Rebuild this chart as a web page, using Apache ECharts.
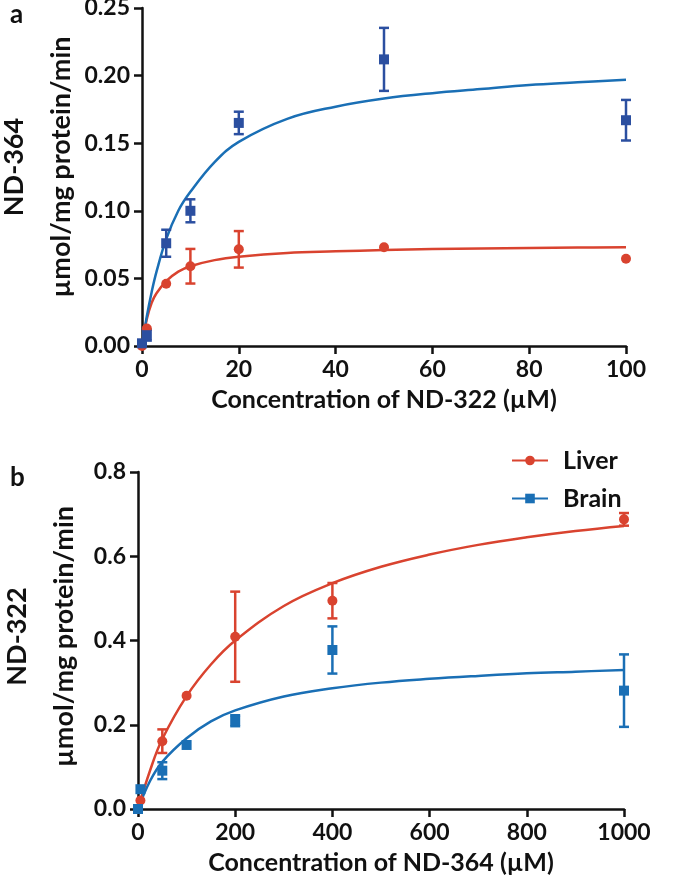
<!DOCTYPE html>
<html>
<head>
<meta charset="utf-8">
<script src="https://cdn.jsdelivr.net/npm/echarts@6/dist/echarts.min.js"></script>
<style>
html,body{margin:0;padding:0;background:#fff;}
#chart{width:673px;height:883px;}
</style>
</head>
<body>
<div id="chart"></div>
<script>
// ---------- Panel a (substrate ND-322, product ND-364) ----------
const aLiverX   = [0, 1, 5, 10, 20, 50, 100];
const aLiverY   = [0.000, 0.013, 0.046, 0.059, 0.0715, 0.073, 0.0645];
const aLiverErr = [0, 0, 0, 0.0128, 0.0135, 0, 0];
const aBrainX   = [0, 1, 5, 10, 20, 50, 100];
const aBrainY   = [0.002, 0.008, 0.076, 0.100, 0.165, 0.212, 0.167];
const aBrainErr = [0, 0.004, 0.010, 0.0085, 0.0083, 0.0233, 0.015];
// fitted curves
const aCurveX      = [0, 1, 2, 3, 5, 7.5, 10, 15, 20, 30, 40, 50, 60, 70, 80, 90, 100];
const aLiverCurveY = [0, 0.020, 0.032, 0.039, 0.048, 0.055, 0.059, 0.0635, 0.066, 0.0688, 0.070, 0.071, 0.0717, 0.0722, 0.0725, 0.0728, 0.073];
const aBrainCurveY = [0, 0.022, 0.040, 0.055, 0.079, 0.100, 0.114, 0.136, 0.151, 0.168, 0.177, 0.183, 0.187, 0.190, 0.193, 0.195, 0.197];
const aXTicks = [0, 20, 40, 60, 80, 100];
const aYTicks = [0.00, 0.05, 0.10, 0.15, 0.20, 0.25];

// ---------- Panel b (substrate ND-364, product ND-322) ----------
const bLiverX   = [0, 5, 50, 100, 200, 400, 1000];
const bLiverY   = [0.000, 0.020, 0.161, 0.269, 0.409, 0.4945, 0.6876];
const bLiverErr = [0, 0, 0.028, 0, 0.107, 0.042, 0.015];
const bBrainX   = [0, 5, 50, 100, 200, 400, 1000];
const bBrainY   = [0.000, 0.047, 0.091, 0.152, 0.2096, 0.3775, 0.281];
const bBrainErr = [0, 0, 0.020, 0, 0.013, 0.056, 0.086];
const bCurveX      = [0, 25, 50, 100, 150, 200, 300, 400, 500, 600, 700, 800, 900, 1000];
const bLiverCurveY = [0, 0.092, 0.166, 0.268, 0.343, 0.400, 0.482, 0.536, 0.575, 0.604, 0.627, 0.645, 0.660, 0.672];
const bBrainCurveY = [0, 0.067, 0.112, 0.168, 0.208, 0.234, 0.267, 0.2865, 0.300, 0.309, 0.316, 0.322, 0.326, 0.330];
const bXTicks = [0, 200, 400, 600, 800, 1000];
const bYTicks = [0.0, 0.2, 0.4, 0.6, 0.8];

const seriesNames = ['Liver', 'Brain'];
const RED = '#D9432F', BLUE = '#1A6FB5', BLUE_A = '#2B4FA0';
const FONT = 'Lato';

function pairs(xs, ys) { return xs.map((x, i) => [x, ys[i]]); }
function errData(xs, ys, es) {
  return xs.map((x, i) => es[i] > 0 ? [x, ys[i] - es[i], ys[i] + es[i]] : null).filter(d => d);
}
function errSeries(name, xi, yi, data, color) {
  return {
    type: 'custom', name: name, xAxisIndex: xi, yAxisIndex: yi, silent: true, z: 3,
    data: data,
    encode: { x: 0, y: [1, 2] },
    renderItem: function (params, api) {
      const x = api.value(0);
      const lo = api.coord([x, api.value(1)]);
      const hi = api.coord([x, api.value(2)]);
      const w = 5;
      const st = { stroke: color, lineWidth: 2.5, fill: null };
      return {
        type: 'group',
        children: [
          { type: 'line', shape: { x1: lo[0], y1: lo[1], x2: hi[0], y2: hi[1] }, style: st },
          { type: 'line', shape: { x1: lo[0] - w, y1: lo[1], x2: lo[0] + w, y2: lo[1] }, style: st },
          { type: 'line', shape: { x1: hi[0] - w, y1: hi[1], x2: hi[0] + w, y2: hi[1] }, style: st }
        ]
      };
    }
  };
}

const axisLineStyle = { color: '#111', width: 2.5 };
const labelStyle = { color: '#111', fontFamily: FONT, fontWeight: 'bold', fontSize: 23 };
const nameStyle = { color: '#111', fontFamily: FONT, fontWeight: 'bold', fontSize: 25 };

function xAxis(grid, ticks, name) {
  return {
    type: 'value', gridIndex: grid, min: ticks[0], max: ticks[ticks.length - 1],
    interval: ticks[1] - ticks[0],
    axisLine: { show: true, onZero: false, lineStyle: axisLineStyle },
    axisTick: { show: true, length: 8, lineStyle: { color: '#111', width: 2.5 } },
    axisLabel: Object.assign({ margin: 12, showMinLabel: true, showMaxLabel: true, formatter: v => String(v) }, labelStyle),
    splitLine: { show: false },
    name: name, nameLocation: 'middle', nameGap: 41, nameMoveOverlap: false, nameTextStyle: nameStyle
  };
}
function yAxis(grid, ticks, digits, name, gap, shift) {
  return {
    type: 'value', gridIndex: grid, min: ticks[0], max: ticks[ticks.length - 1],
    interval: ticks[1] - ticks[0],
    axisLine: { show: true, onZero: false, lineStyle: axisLineStyle },
    axisTick: { show: true, length: 8, lineStyle: { color: '#111', width: 2.5 } },
    axisLabel: Object.assign({ margin: 12, formatter: v => v.toFixed(digits) }, labelStyle),
    splitLine: { show: false },
    name: name, nameLocation: 'middle', nameRotate: 90, nameGap: gap, nameMoveOverlap: false,
    nameTextStyle: Object.assign({}, nameStyle, { fontSize: 27, lineHeight: 47, padding: [0, 0, 0, shift] })
  };
}

const chart = echarts.init(document.getElementById('chart'), null, { renderer: 'canvas' });
chart.setOption({
  backgroundColor: '#fff',
  animation: false,
  title: [
    { text: 'a', left: 5, top: -3, textStyle: { fontFamily: FONT, fontWeight: 'bold', fontSize: 26, color: '#111' } },
    { text: 'b', left: 5, top: 460, textStyle: { fontFamily: FONT, fontWeight: 'bold', fontSize: 26, color: '#111' } }
  ],
  legend: {
    data: seriesNames, orient: 'vertical', left: 506, top: 443,
    itemWidth: 36, itemHeight: 12, itemGap: 13,
    textStyle: { fontFamily: FONT, fontWeight: 'bold', fontSize: 25, color: '#111', padding: [0, 0, 0, 10] }
  },
  grid: [
    { left: 142, top: 8, width: 484, height: 338, containLabel: false, outerBoundsMode: 'none' },
    { left: 138, top: 472, width: 486, height: 337, containLabel: false, outerBoundsMode: 'none' }
  ],
  xAxis: [
    xAxis(0, aXTicks, 'Concentration of ND-322 (µM)'),
    xAxis(1, bXTicks, 'Concentration of ND-364 (µM)')
  ],
  yAxis: [
    yAxis(0, aYTicks, 2, 'ND-364\nµmol/mg protein/min', 57, 20),
    yAxis(1, bYTicks, 1, 'ND-322\nµmol/mg protein/min', 50, 8)
  ],
  series: [
    // panel a
    { type: 'line', name: 'a-liver-fit', xAxisIndex: 0, yAxisIndex: 0, data: pairs(aCurveX, aLiverCurveY),
      smooth: 0.4, showSymbol: false, lineStyle: { color: RED, width: 2.5 }, itemStyle: { color: RED }, z: 2 },
    { type: 'line', name: 'a-brain-fit', xAxisIndex: 0, yAxisIndex: 0, data: pairs(aCurveX, aBrainCurveY),
      smooth: 0.4, showSymbol: false, lineStyle: { color: BLUE, width: 2.5 }, itemStyle: { color: BLUE }, z: 2 },
    errSeries('a-liver-err', 0, 0, errData(aLiverX, aLiverY, aLiverErr), RED),
    errSeries('a-brain-err', 0, 0, errData(aBrainX, aBrainY, aBrainErr), BLUE_A),
    { type: 'scatter', name: 'a-liver-pts', xAxisIndex: 0, yAxisIndex: 0, data: pairs(aLiverX, aLiverY),
      symbol: 'circle', symbolSize: 10, itemStyle: { color: RED, opacity: 1 }, z: 4 },
    { type: 'scatter', name: 'a-brain-pts', xAxisIndex: 0, yAxisIndex: 0, data: pairs(aBrainX, aBrainY),
      symbol: 'rect', symbolSize: 10, itemStyle: { color: BLUE_A, opacity: 1 }, z: 4 },
    // panel b
    { type: 'line', name: 'Liver', xAxisIndex: 1, yAxisIndex: 1, data: pairs(bCurveX, bLiverCurveY),
      smooth: 0.4, showSymbol: false, symbol: 'circle', symbolSize: 10,
      lineStyle: { color: RED, width: 2.5 }, itemStyle: { color: RED }, z: 2 },
    { type: 'line', name: 'Brain', xAxisIndex: 1, yAxisIndex: 1, data: pairs(bCurveX, bBrainCurveY),
      smooth: 0.4, showSymbol: false, symbol: 'rect', symbolSize: 10,
      lineStyle: { color: BLUE, width: 2.5 }, itemStyle: { color: BLUE }, z: 2 },
    errSeries('b-liver-err', 1, 1, errData(bLiverX, bLiverY, bLiverErr), RED),
    errSeries('b-brain-err', 1, 1, errData(bBrainX, bBrainY, bBrainErr), BLUE),
    { type: 'scatter', name: 'b-liver-pts', xAxisIndex: 1, yAxisIndex: 1, data: pairs(bLiverX, bLiverY),
      symbol: 'circle', symbolSize: 10, itemStyle: { color: RED, opacity: 1 }, z: 4 },
    { type: 'scatter', name: 'b-brain-pts', xAxisIndex: 1, yAxisIndex: 1, data: pairs(bBrainX, bBrainY),
      symbol: 'rect', symbolSize: 10, itemStyle: { color: BLUE, opacity: 1 }, z: 4 }
  ]
});
</script>
</body>
</html>
